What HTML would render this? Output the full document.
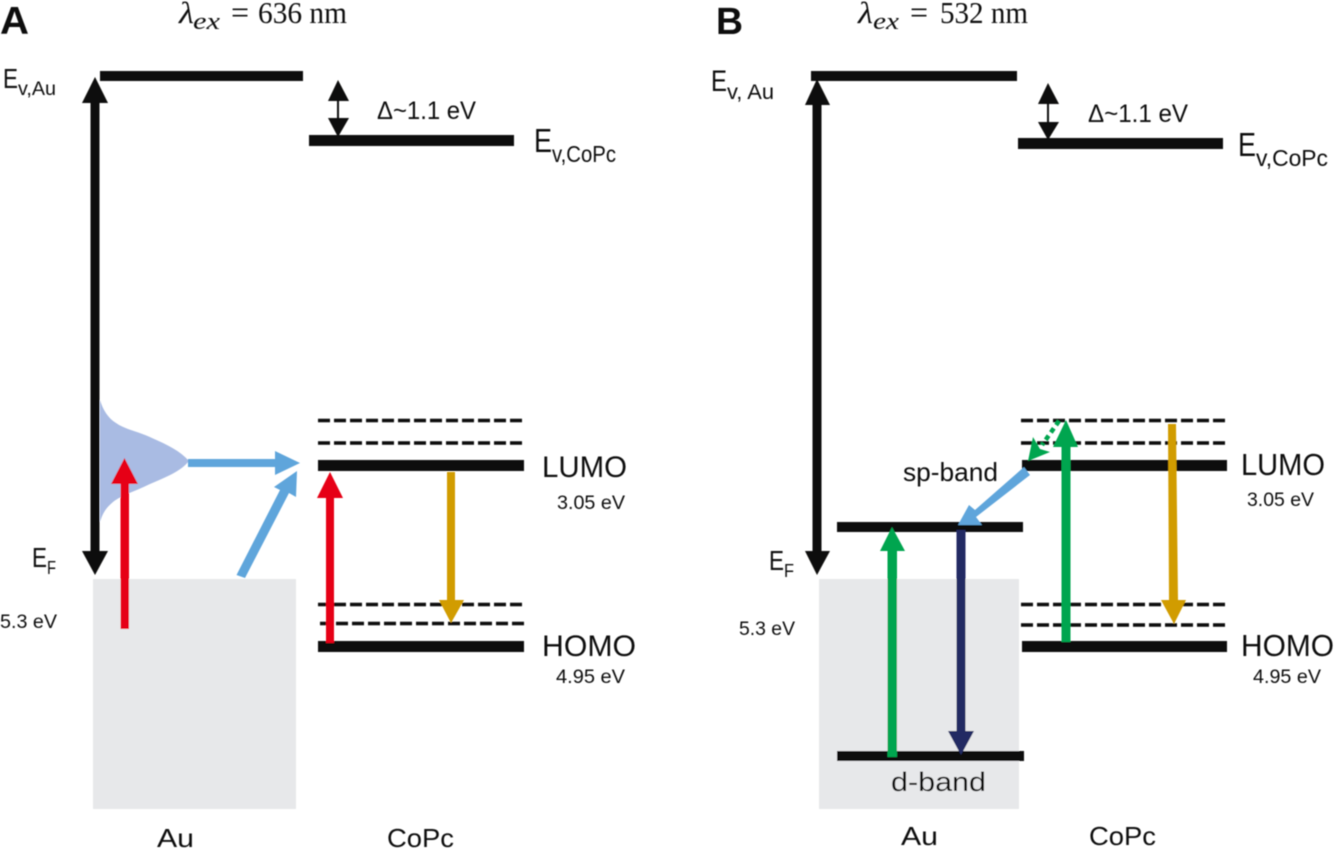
<!DOCTYPE html>
<html lang="en"><head><meta charset="utf-8"><title>Energy diagram</title>
<style>html,body{margin:0;padding:0;background:#fff}svg{display:block}
.s{font-family:"Liberation Sans",sans-serif;fill:#111}
.t{font-family:"Liberation Serif",serif;fill:#111}
.b{fill:#0c0b08}.d{stroke:#0c0b08;stroke-width:3.6;stroke-dasharray:12 4;fill:none}</style></head>
<body>
<svg width="1335" height="849" viewBox="0 0 1335 849" xmlns="http://www.w3.org/2000/svg">
<defs><filter id="f" x="-5%" y="-5%" width="110%" height="110%"><feGaussianBlur stdDeviation="0.45"/></filter></defs>
<rect width="1335" height="849" fill="#fff"/>
<g filter="url(#f)">
<!-- Panel A -->
<rect x="93" y="579" width="203" height="230" fill="#e7e8ea"/>
<path d="M100 400C103 410 108 418 116 423C126 430 140 432 152 438C168 445 180 451 189 461C180 472 166 477 150 484C136 491 122 495 113 502C107 507 103 512 100 522Z" fill="#a9bbe3"/>
<rect class="b" x="100" y="71" width="203" height="10"/>
<rect class="b" x="309" y="135" width="205" height="11"/>
<rect class="b" x="318" y="460" width="206" height="11"/>
<rect class="b" x="318" y="641" width="206" height="11"/>
<path class="d" d="M318 420.500H524M318 443H524M318 604.500H524M320 623.500H526"/>
<path class="b" d="M95 77L108 103H99.500V551H108L95 575L82 551H90.500V103H82Z"/>
<path class="b" d="M338 80L349 101H339V118H349L338 137L328 118H337V101H328Z"/>
<path d="M120.500 629V484H111L124.500 458L138 484H129V629Z" fill="#e60012"/>
<path d="M326 643V498H317L330 472L343 498H334V643Z" fill="#e60012"/>
<path d="M447 472H455V600H464L451 623L439 600H447Z" fill="#d19c05"/>
<path d="M188 459H275V451L300 463L275 475V467H188Z" fill="#5fa5db"/>
<path d="M236.500 575L280 490L274 487L297 471L296 497L289 493L245 578Z" fill="#5fa5db"/>
<!-- Panel B -->
<rect x="819" y="579" width="200" height="230" fill="#e7e8ea"/>
<rect class="b" x="811" y="71" width="206" height="10"/>
<rect class="b" x="1018" y="138" width="205" height="11"/>
<rect class="b" x="1022" y="460" width="205" height="11"/>
<rect class="b" x="1022" y="641" width="205" height="11"/>
<rect class="b" x="837" y="522" width="186" height="10"/>
<rect class="b" x="837" y="751" width="187" height="10"/>
<path class="d" d="M1021 420.500H1227M1021 443H1227M1021 604.500H1227M1021 625H1227"/>
<path class="b" d="M817 79L830 105H821.500V551H830L817 575L805 551H812.500V105H805Z"/>
<path class="b" d="M1048 83L1059 104H1049V122H1059L1048 140L1038 122H1047V104H1038Z"/>
<path d="M887.500 757V551H880L892 527L905 551H897V757Z" fill="#00a54f"/>
<path d="M956.500 530H965.500V731H974L961 755L948 731H956.500Z" fill="#202a63"/>
<path d="M1061.500 642V447H1053L1066 420L1078 447H1070.500V642Z" fill="#00a54f"/>
<path d="M1168 424H1176L1178 600H1186L1174 624L1161 600H1169Z" fill="#d19c05"/>
<path d="M1024 467L1030 475L976 517L982 525L958 525L969 505L975 510Z" fill="#5fa5db"/>
<path d="M1059 421L1042 445" stroke="#00a54f" stroke-width="4.500" stroke-dasharray="5 4" fill="none"/>
<path d="M1028 461L1033 437L1040 449L1050 452Z" fill="#00a54f"/>
<!-- Text A -->
<text class="s" x="0" y="34" font-size="39" font-weight="700" textLength="29" lengthAdjust="spacingAndGlyphs">A</text>
<text class="t" x="179" y="23" font-size="31" font-style="italic" textLength="15" lengthAdjust="spacingAndGlyphs">λ</text>
<text class="t" x="193" y="29" font-size="24" font-style="italic" textLength="27" lengthAdjust="spacingAndGlyphs">ex</text>
<text class="t" x="231" y="23" font-size="32">=</text>
<text class="t" x="258" y="23" font-size="31" textLength="89" lengthAdjust="spacingAndGlyphs">636 nm</text>
<text class="s" x="3" y="88" font-size="28" textLength="15" lengthAdjust="spacingAndGlyphs">E</text>
<text class="s" x="18" y="95" font-size="19" textLength="38" lengthAdjust="spacingAndGlyphs">v,Au</text>
<text class="s" x="377" y="119" font-size="25" textLength="99" lengthAdjust="spacingAndGlyphs">Δ~1.1 eV</text>
<text class="s" x="534" y="152" font-size="33" textLength="18" lengthAdjust="spacingAndGlyphs">E</text>
<text class="s" x="552" y="162" font-size="23" textLength="64" lengthAdjust="spacingAndGlyphs">v,CoPc</text>
<text class="s" x="542" y="477" font-size="30" textLength="85" lengthAdjust="spacingAndGlyphs">LUMO</text>
<text class="s" x="557" y="509" font-size="19" textLength="68" lengthAdjust="spacingAndGlyphs">3.05 eV</text>
<text class="s" x="32" y="567" font-size="28" textLength="15" lengthAdjust="spacingAndGlyphs">E</text>
<text class="s" x="47" y="574" font-size="18" textLength="9" lengthAdjust="spacingAndGlyphs">F</text>
<text class="s" x="0" y="628" font-size="19" textLength="57" lengthAdjust="spacingAndGlyphs">5.3 eV</text>
<text class="s" x="542" y="656" font-size="30" textLength="94" lengthAdjust="spacingAndGlyphs">HOMO</text>
<text class="s" x="556" y="683" font-size="19" textLength="69" lengthAdjust="spacingAndGlyphs">4.95 eV</text>
<text class="s" x="157" y="847" font-size="26" textLength="37" lengthAdjust="spacingAndGlyphs">Au</text>
<text class="s" x="387" y="847" font-size="26" textLength="67" lengthAdjust="spacingAndGlyphs">CoPc</text>
<!-- Text B -->
<text class="s" x="716" y="34" font-size="38" font-weight="700" textLength="27" lengthAdjust="spacingAndGlyphs">B</text>
<text class="t" x="858" y="23" font-size="31" font-style="italic" textLength="15" lengthAdjust="spacingAndGlyphs">λ</text>
<text class="t" x="873" y="29" font-size="24" font-style="italic" textLength="26" lengthAdjust="spacingAndGlyphs">ex</text>
<text class="t" x="910" y="23" font-size="32">=</text>
<text class="t" x="940" y="23" font-size="31" textLength="88" lengthAdjust="spacingAndGlyphs">532 nm</text>
<text class="s" x="711" y="91" font-size="30" textLength="16" lengthAdjust="spacingAndGlyphs">E</text>
<text class="s" x="727" y="99" font-size="21" textLength="47" lengthAdjust="spacingAndGlyphs">v, Au</text>
<text class="s" x="1088" y="122" font-size="25" textLength="100" lengthAdjust="spacingAndGlyphs">Δ~1.1 eV</text>
<text class="s" x="1238" y="156" font-size="33" textLength="18" lengthAdjust="spacingAndGlyphs">E</text>
<text class="s" x="1256" y="166" font-size="23" textLength="72" lengthAdjust="spacingAndGlyphs">v,CoPc</text>
<text class="s" x="1241" y="475" font-size="31" textLength="84" lengthAdjust="spacingAndGlyphs">LUMO</text>
<text class="s" x="903" y="481" font-size="26" textLength="95" lengthAdjust="spacingAndGlyphs">sp-band</text>
<text class="s" x="1247" y="506" font-size="19" textLength="67" lengthAdjust="spacingAndGlyphs">3.05 eV</text>
<text class="s" x="769" y="570" font-size="28" textLength="15" lengthAdjust="spacingAndGlyphs">E</text>
<text class="s" x="784" y="577" font-size="18" textLength="10" lengthAdjust="spacingAndGlyphs">F</text>
<text class="s" x="739" y="635" font-size="19" textLength="56" lengthAdjust="spacingAndGlyphs">5.3 eV</text>
<text class="s" x="1241" y="656" font-size="31" textLength="93" lengthAdjust="spacingAndGlyphs">HOMO</text>
<text class="s" x="1253" y="683" font-size="19" textLength="68" lengthAdjust="spacingAndGlyphs">4.95 eV</text>
<text class="s" x="891" y="791" font-size="27" textLength="95" lengthAdjust="spacingAndGlyphs">d-band</text>
<text class="s" x="901" y="845" font-size="26" textLength="37" lengthAdjust="spacingAndGlyphs">Au</text>
<text class="s" x="1089" y="845" font-size="26" textLength="67" lengthAdjust="spacingAndGlyphs">CoPc</text>
</g>
</svg>
</body></html>
